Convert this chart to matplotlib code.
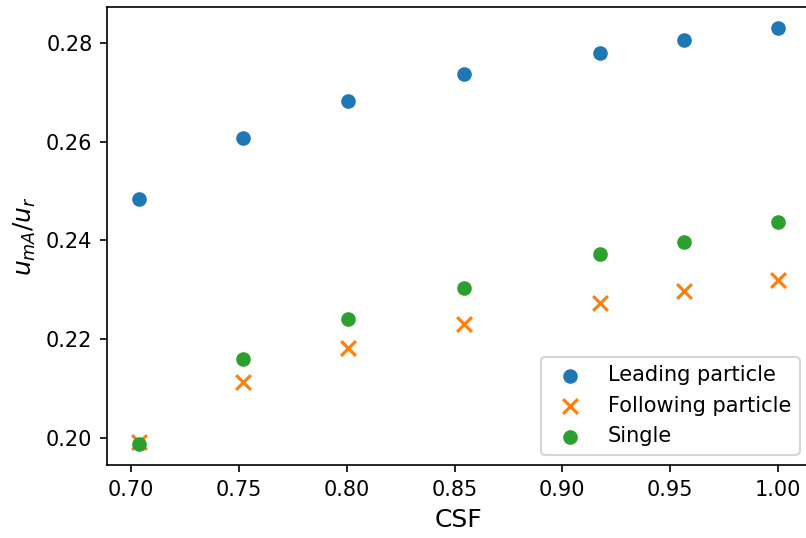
import matplotlib
matplotlib.use("Agg")
import matplotlib.pyplot as plt

csf = [0.7037, 0.752, 0.8008, 0.8543, 0.9176, 0.9565, 1.0]
leading = [0.2484, 0.2607, 0.2683, 0.2737, 0.2779, 0.2806, 0.2830]
following = [0.1992, 0.2113, 0.2182, 0.2231, 0.2273, 0.2298, 0.2321]
single = [0.1988, 0.2160, 0.2241, 0.2304, 0.2373, 0.2396, 0.2437]


def main():
    fig = plt.figure(figsize=(806 / 150, 538 / 150), dpi=150)
    ax = fig.add_axes([107 / 806, 73 / 538, 703 / 806, 458 / 538])
    ax.scatter(csf, leading, label="Leading particle")
    ax.scatter(csf, following, marker="x", s=50, label="Following particle")
    ax.scatter(csf, single, label="Single")
    ax.set_xlabel("CSF", fontsize=12)
    ax.set_ylabel("$u_{mA}/u_r$", fontsize=12)
    ax.legend(loc="lower right")
    fig.savefig("out.png", dpi=150)
    plt.close(fig)


if __name__ == "__main__":
    main()
